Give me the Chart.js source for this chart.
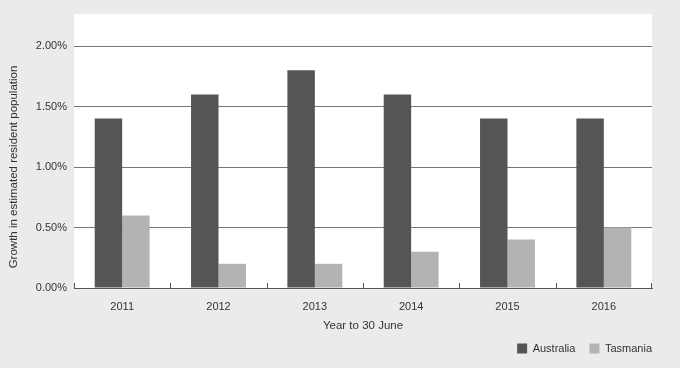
<!DOCTYPE html>
<html>
<head>
<meta charset="utf-8">
<script src="https://cdn.jsdelivr.net/npm/chart.js@4"></script>
<style>
  html, body { margin: 0; padding: 0; background: #ebebeb; }
  #wrap { width: 680px; height: 368px; }
</style>
</head>
<body>
<div id="wrap"><canvas id="growthChart"></canvas></div>
<script>
// years (x axis) and growth in estimated resident population, %
var years = ['2011', '2012', '2013', '2014', '2015', '2016'];
var australia = [1.4, 1.6, 1.8, 1.6, 1.4, 1.4];
var tasmania = [0.6, 0.2, 0.2, 0.3, 0.4, 0.5];
var yTicks = [0, 0.5, 1.0, 1.5, 2.0];

var textColor = '#333333';
var fontFamily = '"Liberation Sans", Arial, Helvetica, sans-serif';

// white panel behind the plot area, small inward ticks on the x axis,
// and a nudge of the legend to the bottom right corner
var panelPlugin = {
    id: 'panel',
    afterLayout: function(chart) {
        var lg = chart.legend;
        lg.left += 14; lg.right += 14;
        lg.top -= 4; lg.bottom -= 4;
    },
    beforeDraw: function(chart) {
        var a = chart.chartArea;
        var ctx = chart.ctx;
        ctx.save();
        ctx.fillStyle = '#ffffff';
        ctx.fillRect(a.left, a.top - 32, a.right - a.left, a.bottom - a.top + 32);
        ctx.restore();
    },
    afterDatasetsDraw: function(chart) {
        var a = chart.chartArea;
        var ctx = chart.ctx;
        var n = years.length;
        ctx.save();
        ctx.strokeStyle = '#555555';
        ctx.lineWidth = 1;
        for (var i = 0; i <= n; i++) {
            var x = Math.round(a.left + i * (a.right - a.left) / n) + 0.5;
            if (i === n) x -= 1;
            ctx.beginPath();
            ctx.moveTo(x, a.bottom);
            ctx.lineTo(x, a.bottom - 5);
            ctx.stroke();
        }
        ctx.restore();
    }
};

var ctx = document.getElementById('growthChart').getContext('2d');
var growthChart = new Chart(ctx, {
    type: 'bar',
    data: {
        labels: years,
        datasets: [{
            label: 'Australia',
            data: australia,
            backgroundColor: '#555555',
            borderWidth: 0
        }, {
            label: 'Tasmania',
            data: tasmania,
            backgroundColor: '#b3b3b3',
            borderWidth: 0
        }]
    },
    options: {
        responsive: true,
        maintainAspectRatio: false,
        animation: false,
        layout: { padding: { top: 46, right: 28, left: 0, bottom: 0 } },
        datasets: {
            bar: { categoryPercentage: 0.57, barPercentage: 1.0 }
        },
        plugins: {
            legend: {
                position: 'bottom',
                align: 'end',
                labels: {
                    boxWidth: 10,
                    boxHeight: 10,
                    padding: 14,
                    color: textColor,
                    font: { family: fontFamily, size: 11 }
                }
            },
            tooltip: { enabled: false }
        },
        scales: {
            x: {
                afterFit: function(scale) {
                    scale.height = 45;
                },
                grid: { display: false, drawTicks: false },
                border: { display: true, color: '#555555', width: 1 },
                ticks: {
                    color: textColor,
                    padding: 12,
                    font: { family: fontFamily, size: 11 }
                },
                title: {
                    display: true,
                    text: 'Year to 30 June',
                    color: textColor,
                    padding: { top: 0, bottom: 0 },
                    font: { family: fontFamily, size: 11.5 }
                }
            },
            y: {
                min: 0,
                max: 2.0,
                afterBuildTicks: function(scale) {
                    scale.ticks = yTicks.map(function(v) { return { value: v }; });
                },
                afterFit: function(scale) {
                    scale.width = 74;
                },
                grid: { color: '#777777', lineWidth: 1, drawTicks: false },
                border: { display: false },
                ticks: {
                    color: textColor,
                    padding: 7,
                    font: { family: fontFamily, size: 11 },
                    callback: function(v) { return v.toFixed(2) + '%'; }
                },
                title: {
                    display: true,
                    text: 'Growth in estimated resident population',
                    color: textColor,
                    padding: { top: 7, bottom: 4 },
                    font: { family: fontFamily, size: 11.5 }
                }
            }
        }
    },
    plugins: [panelPlugin]
});
</script>
</body>
</html>
